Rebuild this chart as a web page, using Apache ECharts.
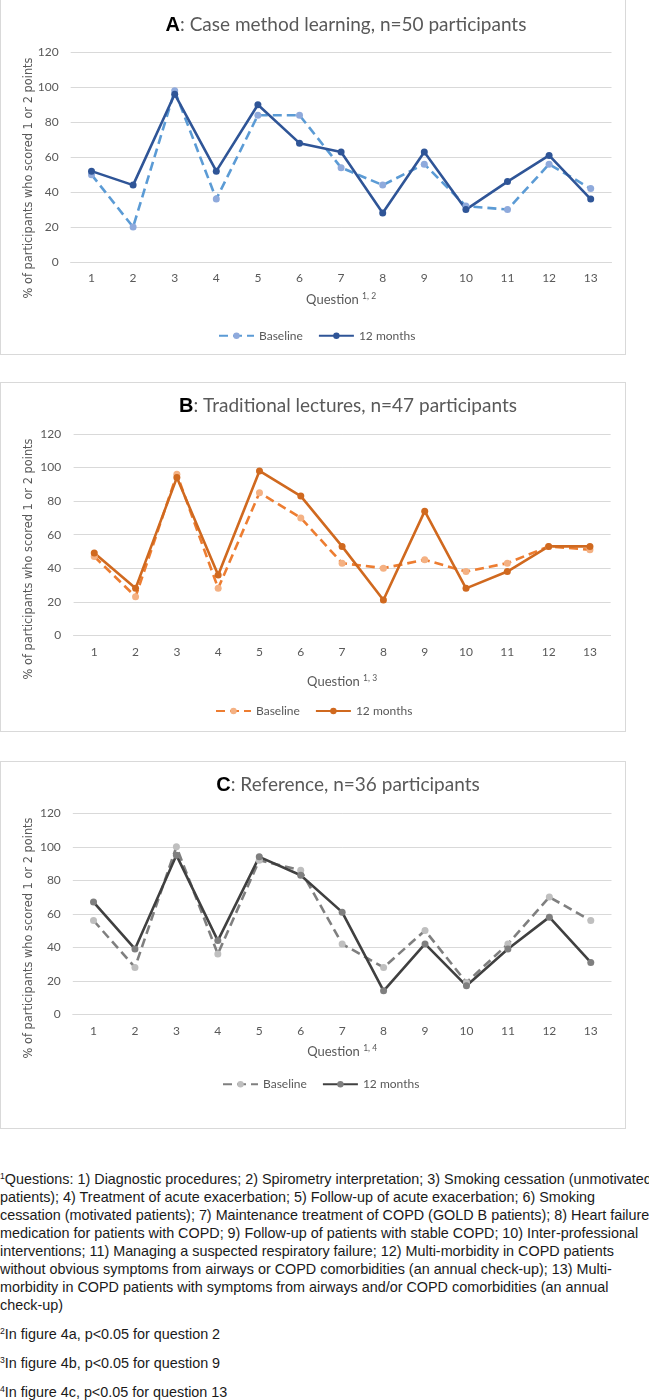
<!DOCTYPE html>
<html>
<head>
<meta charset="utf-8">
<script src="https://cdn.jsdelivr.net/npm/echarts@6/dist/echarts.min.js"></script>
<style>
  html, body { margin: 0; padding: 0; background: #fff; }
  body { width: 649px; height: 1400px; position: relative; overflow: hidden; }
  .chart { position: absolute; left: 0; width: 649px; }
  .box { position: absolute; left: 0; width: 626px; border: 1px solid #d9d9d9; pointer-events: none; box-sizing: border-box; }
  #notes { position: absolute; left: 0; top: 1170px; width: 700px; font-family: "Liberation Sans", Arial, sans-serif; font-size: 15px; line-height: 18px; color: #1a1a1a; white-space: nowrap; transform: scaleX(0.958); transform-origin: 0 0; }
  #notes p { margin: 0 0 11px 0; }
  #notes sup { font-size: 9px; vertical-align: 5px; line-height: 0; }
</style>
</head>
<body>
<div class="box" style="top:-1px;height:356px;"></div>
<div class="box" style="top:382px;height:350px;"></div>
<div class="box" style="top:761px;height:368px;"></div>
<div id="cA" class="chart" style="top:0px;height:355px;"></div>
<div id="cB" class="chart" style="top:382px;height:350px;"></div>
<div id="cC" class="chart" style="top:761px;height:368px;"></div>
<div id="notes">
<p><sup>1</sup>Questions: 1) Diagnostic procedures; 2) Spirometry interpretation; 3) Smoking cessation (unmotivated<br>patients); 4) Treatment of acute exacerbation; 5) Follow-up of acute exacerbation; 6) Smoking<br>cessation (motivated patients); 7) Maintenance treatment of COPD (GOLD B patients); 8) Heart failure<br>medication for patients with COPD; 9) Follow-up of patients with stable COPD; 10) Inter-professional<br>interventions; 11) Managing a suspected respiratory failure; 12) Multi-morbidity in COPD patients<br>without obvious symptoms from airways or COPD comorbidities (an annual check-up); 13) Multi-<br>morbidity in COPD patients with symptoms from airways and/or COPD comorbidities (an annual<br>check-up)</p>
<p><sup>2</sup>In figure 4a, p&lt;0.05 for question 2</p>
<p><sup>3</sup>In figure 4b, p&lt;0.05 for question 9</p>
<p><sup>4</sup>In figure 4c, p&lt;0.05 for question 13</p>
</div>
<script>
// ---- data ----
const questions = ['1','2','3','4','5','6','7','8','9','10','11','12','13'];
const seriesNames = ['Baseline', '12 months'];
const yAxisTitle = '% of participants who scored 1 or 2 points';

const caseBaseline = [50, 20, 98, 36, 84, 84, 54, 44, 56, 32, 30, 56, 42];
const case12m      = [52, 44, 96, 52, 90, 68, 63, 28, 63, 30, 46, 61, 36];

const lectBaseline = [47, 23, 96, 28, 85, 70, 43, 40, 45, 38, 43, 53, 51];
const lect12m      = [49, 28, 94, 36, 98, 83, 53, 21, 74, 28, 38, 53, 53];

const refBaseline  = [56, 28, 100, 36, 92, 86, 42, 28, 50, 19, 42, 70, 56];
const ref12m       = [67, 39, 95, 44, 94, 83, 61, 14, 42, 17, 39, 58, 31];

const titleA = { letter: 'A', rest: ': Case method learning, n=50 participants' };
const titleB = { letter: 'B', rest: ': Traditional lectures, n=47 participants' };
const titleC = { letter: 'C', rest: ': Reference, n=36 participants' };
const supA = '1, 2', supB = '1, 3', supC = '1, 4';

// ---- drawing ----
const GRAY = '#595959';
const FONT = 'Lato, "Open Sans", sans-serif';

function build(el, t, sup, base, m12, L) {
  const chart = echarts.init(document.getElementById(el), null, { renderer: 'canvas' });
  chart.setOption({
    animation: false,
    title: {
      text: '{b|' + t.letter + '}{t|' + t.rest + '}',
      left: L.titleX, top: L.titleY - 12, textAlign: 'center',
      textStyle: {
        fontWeight: 'normal',
        rich: {
          b: { fontFamily: '"Liberation Sans", Arial, sans-serif', fontWeight: 'bold', fontSize: 20, color: '#000', lineHeight: 24 },
          t: { fontFamily: FONT, fontWeight: 'normal', fontSize: 19, color: GRAY, lineHeight: 24 }
        }
      }
    },
    grid: { left: L.left, right: 649 - L.right, top: L.top, height: L.height, containLabel: false },
    legend: {
      data: seriesNames,
      left: L.legendX, top: L.legendY - 11,
      itemWidth: 35, itemHeight: 8, itemGap: 15,
      textStyle: { fontFamily: FONT, fontSize: 12, color: GRAY }
    },
    xAxis: {
      type: 'category', data: questions, boundaryGap: true,
      axisLine: { show: true, lineStyle: { color: '#d9d9d9', width: 1 } },
      axisTick: { show: false },
      axisLabel: { color: GRAY, fontFamily: FONT, fontSize: 12, margin: L.xLabelMargin },
      name: '{q|Question }{s|' + sup + '}',
      nameLocation: 'middle', nameGap: L.qGap,
      nameTextStyle: {
        rich: {
          q: { fontFamily: FONT, fontSize: 13, color: GRAY, lineHeight: 16 },
          s: { fontFamily: FONT, fontSize: 8.5, color: GRAY, lineHeight: 16, verticalAlign: 'top', padding: [0,0,6,0] }
        }
      }
    },
    yAxis: {
      type: 'value', min: 0, max: 120, interval: 20,
      axisLine: { show: false }, axisTick: { show: false },
      splitLine: { lineStyle: { color: '#d9d9d9', width: 1 } },
      axisLabel: { color: GRAY, fontFamily: FONT, fontSize: 12, margin: L.yLabelMargin }
    },
    graphic: [{
      type: 'text', x: 29, y: L.yNameY, rotation: Math.PI / 2,
      style: { text: yAxisTitle, fill: GRAY, fontFamily: 'DejaVu Sans', fontSize: 11.4, align: 'center', verticalAlign: 'middle' }
    }],
    series: [
      {
        name: seriesNames[0], type: 'line', data: base,
        symbol: 'circle', symbolSize: 7,
        lineStyle: { color: L.c[0], width: 2.6, type: [9, 5] },
        itemStyle: { color: L.c[1] }
      },
      {
        name: seriesNames[1], type: 'line', data: m12,
        symbol: 'circle', symbolSize: 7,
        lineStyle: { color: L.c[2], width: 2.6, type: 'solid' },
        itemStyle: { color: L.c[3] }
      }
    ]
  });
}

build('cA', titleA, supA, caseBaseline, case12m, {
  titleX: 341, titleY: 20, left: 70.7, right: 611.5, top: 52.3, height: 209.7,
  xLabelMargin: 10, yLabelMargin: 12, qGap: 30, legendX: 213, legendY: 335.7, yNameY: 178,
  c: ['#5B9BD5', '#8FAADC', '#2F5597', '#2F5597']
});
build('cB', titleB, supB, lectBaseline, lect12m, {
  titleX: 343, titleY: 19, left: 73.6, right: 610.6, top: 52, height: 201.3,
  xLabelMargin: 11, yLabelMargin: 12.5, qGap: 38.4, legendX: 210, legendY: 329, yNameY: 177,
  c: ['#ED7D31', '#F4B183', '#D0691F', '#D0691F']
});
build('cC', titleC, supC, refBaseline, ref12m, {
  titleX: 343, titleY: 19, left: 72.8, right: 611.5, top: 52.3, height: 201,
  xLabelMargin: 10.5, yLabelMargin: 12, qGap: 29.7, legendX: 217, legendY: 323.3, yNameY: 177,
  c: ['#7F7F7F', '#BFBFBF', '#404040', '#7F7F7F']
});
</script>
</body>
</html>
